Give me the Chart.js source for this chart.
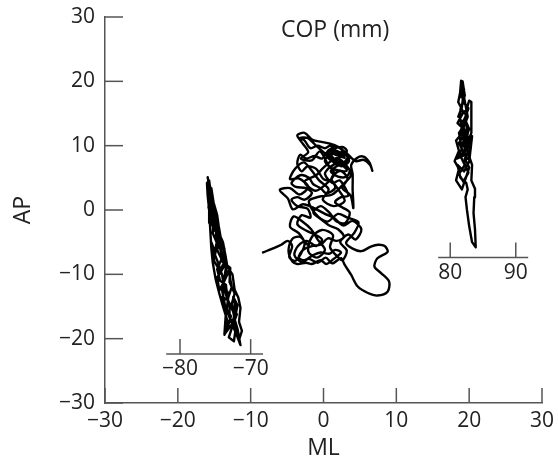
<!DOCTYPE html>
<html><head><meta charset="utf-8">
<script src="https://cdn.jsdelivr.net/npm/chart.js@4/dist/chart.umd.min.js"></script>
<style>html,body{margin:0;padding:0;background:#fff}#wrap{width:558px;height:462px}</style>
</head><body><div id="wrap"><canvas id="c"></canvas></div>
<script>
// ---- data ----
const xTicks = [-30, -20, -10, 0, 10, 20, 30];
const yTicks = [-30, -20, -10, 0, 10, 20, 30];
const leftInsetLabels = [-80, -70];
const rightInsetLabels = [80, 90];
const chartTitle = 'COP (mm)';
const xTitle = 'ML';
const yTitle = 'AP';

// centre trace (ML, AP)
const centralTrace = [
[-8.3,-6.6],[-7.0,-6.0],[-5.8,-5.4],[-4.9,-4.8],[-4.3,-5.6],[-4.7,-7.3],[-3.9,-7.9],[-3.1,-6.8],[-2.6,-5.2],[-3.4,-3.6],
[-4.6,-2.6],[-4.1,-1.0],[-2.9,-1.8],[-1.7,-3.0],[-0.8,-4.6],[0.2,-6.2],[-0.9,-7.4],[-2.1,-6.4],[-1.6,-4.2],[-0.2,-3.1],
[1.3,-3.9],[0.9,-5.8],[1.8,-7.1],[2.6,-7.8],[3.2,-6.3],[2.3,-5.0],[3.4,-3.8],[4.4,-4.6],[5.2,-3.0],[4.0,-1.7],
[2.7,-2.4],[1.4,-1.2],[0.2,-0.6],[-1.3,0.3],[-2.8,0.9],[-4.2,0.1],[-4.9,1.8],[-6.0,3.1],[-4.6,3.4],[-3.3,2.4],
[-2.1,3.6],[-3.4,4.9],[-4.6,4.8],[-3.9,6.4],[-2.7,7.4],[-1.6,6.1],[-0.6,4.6],[0.7,3.2],[-0.1,1.6],[1.4,0.6],
[2.9,1.4],[2.1,3.1],[1.1,4.9],[2.3,6.1],[3.3,4.9],[2.6,3.4],[3.7,2.3],[4.1,0.3],[4.0,3.2],[4.0,5.6],
[3.8,7.0],[4.6,8.1],[5.5,8.3],[6.3,7.4],[6.7,6.1],[6.4,7.0],[5.5,7.8],[4.4,7.6],[3.1,8.9],[1.6,9.9],
[0.5,8.6],[1.9,7.6],[3.2,6.1],[1.3,6.4],[0.2,7.7],[1.7,9.2],[2.9,8.1],[1.0,8.8],[2.4,6.8],[3.5,7.7],
[2.3,9.6],[0.9,10.3],[-0.3,10.6],[-1.5,10.9],[-2.6,12.0],[-3.6,11.6],[-2.9,10.4],[-2.1,9.0],[-3.1,8.0],[-1.6,7.7],
[-0.5,9.1],[0.6,7.1],[1.5,5.6],[0.4,4.1],[-1.1,3.0],[-2.6,4.4],[-1.0,5.4],[0.0,6.6],[1.8,8.1],[3.0,7.1],
[3.8,5.5],[2.8,4.1],[1.2,2.4],[-0.5,2.1],[-2.0,1.4],[-1.1,-0.6],[0.5,-1.8],[2.0,-0.6],[3.3,-1.2],[4.8,-1.9],
[4.2,-3.6],[3.1,-5.1],[4.0,-6.0],[5.2,-6.4],[6.5,-5.7],[7.5,-5.4],[8.4,-5.6],[8.8,-6.5],[7.4,-7.5],[7.0,-8.8],
[7.9,-9.8],[9.0,-11.1],[8.8,-12.7],[7.4,-13.3],[6.1,-12.9],[4.7,-11.9],[3.8,-10.1],[2.9,-8.5],[2.4,-7.5],[1.2,-8.3],
[0.3,-7.4],[-0.8,-8.2],[-2.0,-7.6],[-3.0,-8.1],[-4.0,-7.0],[-3.5,-5.6],[-2.3,-4.8],[-1.0,-5.6],
[-0.2,-4.6],[-1.2,-3.8],[-2.4,-3.2],[-3.6,-2.2],[-3.0,-0.8],[-1.8,-1.2],[-2.2,0.2],[-3.6,0.6],[-4.4,1.6],[-3.6,2.0],
[-2.6,1.6],[-1.6,2.6],[-2.4,3.4],[-3.8,3.6],[-4.4,4.2],[-3.2,5.4],[-2.0,5.0],[-1.4,4.0],[-0.4,3.4],[0.4,2.6],
[1.6,3.4],[1.2,4.4],[0.0,4.8],[-1.0,6.4],[-2.2,6.8],[-3.0,6.0],[-3.6,7.2],[-3.2,8.6],[-2.4,8.0],[-1.2,8.4],
[-0.2,8.0],[0.8,9.4],[1.6,8.6],[2.4,9.0],[3.4,8.6],[3.0,7.6],[2.0,7.0],[1.2,7.6],[0.6,8.2],[1.4,9.4],
[2.6,9.8],[3.2,9.2],[2.8,8.4],[1.8,8.8],[1.0,10.0],[0.2,9.6],[-0.8,10.0],[-1.8,9.6],[-2.6,10.8],[-3.2,11.2],
[-2.2,11.2],[-1.2,10.2],[0.0,9.0],[1.2,8.0],[2.2,7.8],[3.0,6.6],[3.6,6.2],[3.2,5.2],[2.0,5.2],[1.0,6.0],
[1.8,6.8],[2.8,7.2],[3.6,8.2],[2.6,8.6],[1.6,7.2],[0.8,6.6],[0.2,5.6],[1.2,4.2],[2.2,4.6],[3.0,3.4],
[3.4,2.2],[2.4,2.0],[1.6,1.2],[2.6,0.4],[3.6,-0.4],[3.0,-2.0],[1.8,-1.8],[0.8,-0.4],[-0.4,0.6],[-1.4,-0.4],
[-0.4,-1.4],[0.8,-2.4],[2.0,-3.0],[2.8,-4.2],[1.8,-4.8],[0.6,-4.4],[-0.4,-5.4],[-1.6,-5.6],[-2.8,-6.2],[-3.4,-7.4],
[-2.6,-7.8],[-1.4,-7.0],[-0.4,-6.6],[0.8,-6.8],[1.6,-6.2],[2.4,-6.6],[1.4,-7.6],[0.4,-8.4],[-0.4,-7.8],[-1.6,-8.4],
[-2.4,-8.2],[-3.6,-8.4],[-4.4,-7.8],[-4.8,-6.2],[-4.2,-4.4],[-3.2,-4.2],[-2.2,-5.4]
];

// left trace (plotted in main ML units)
const leftTrace = [
[-15.9,5.1],[-15.6,3.0],[-15.7,1.0],[-15.3,2.5],[-15.1,0.2],[-15.5,-1.5],[-15.0,-3.2],[-15.4,-1.0],[-15.8,0.5],[-15.2,-2.5],
[-14.5,-4.0],[-14.9,-6.5],[-15.4,-5.0],[-15.0,-8.0],[-14.2,-9.5],[-13.4,-7.5],[-13.8,-5.0],[-14.6,-3.0],[-14.2,-6.0],[-13.5,-8.5],
[-14.6,-10.5],[-14.3,-12.5],[-13.6,-11.0],[-13.0,-9.5],[-12.6,-12.0],[-13.2,-14.0],[-13.9,-13.5],[-13.4,-16.0],[-13.6,-19.3],[-12.6,-17.8],
[-12.0,-15.5],[-12.4,-13.5],[-11.8,-14.8],[-12.2,-17.0],[-11.8,-18.5],[-11.4,-21.0],[-11.9,-19.5],[-12.8,-17.0],[-13.5,-15.0],[-14.0,-12.0],
[-13.2,-10.0],[-13.8,-7.0],[-14.8,-4.5],[-14.6,-2.0],[-15.2,0.0],[-15.5,2.0],[-15.1,-0.8],[-14.4,-3.5],[-14.0,-6.8],[-13.4,-9.0],
[-13.8,-11.8],[-13.0,-13.0],[-13.3,-15.5],[-12.7,-16.5],[-13.1,-18.0],
[-13.6,-19.4],[-13.2,-17.2],[-13.8,-15.0],[-14.3,-13.0],[-14.8,-10.8],[-15.2,-8.2],[-15.4,-6.0],[-15.5,-4.0],[-15.6,-2.0],[-15.7,0.0],
[-15.9,2.2],[-16.0,4.2],[-15.7,4.6],[-15.4,2.0],[-15.0,0.6],[-14.8,-1.5],[-14.3,-3.8],[-14.0,-5.5],[-13.5,-6.8],[-13.2,-8.8],
[-12.5,-10.0],[-12.2,-12.4],[-11.7,-13.6],[-11.4,-15.2],[-11.6,-17.4],[-11.2,-18.8],[-11.6,-20.2],[-12.2,-18.2],[-12.9,-16.6],[-12.9,-14.6],
[-13.6,-12.6],[-13.9,-10.2],[-14.4,-8.4],[-14.9,-7.0],[-14.6,-5.2],[-15.2,-3.6],[-15.1,-1.8],[-15.6,0.4],[-15.4,3.4],[-15.1,1.2],
[-14.6,-0.8],[-14.4,-2.4],[-14.1,-4.4],[-13.6,-6.0],[-13.9,-8.0],[-12.8,-9.0],[-12.9,-11.2],[-12.2,-13.0],[-12.6,-14.6],[-11.9,-16.2],
[-12.6,-18.4],[-13.0,-19.8],[-12.3,-20.4],[-12.0,-18.0],[-12.4,-15.8],[-13.2,-13.8],[-13.4,-11.6],[-14.2,-11.0],[-14.6,-9.2],[-14.0,-7.6],
[-14.6,-6.2],[-14.2,-4.6],[-14.8,-2.6],[-15.3,-0.6],[-15.2,1.6],[-15.6,3.8]
];

// right trace (plotted in main ML units)
const rightTrace = [
[18.9,20.1],[18.7,17.5],[19.3,18.8],[19.0,16.0],[18.5,14.5],[19.6,15.5],[20.0,17.0],[20.3,16.8],[20.3,12.0],[19.8,10.5],
[19.2,13.0],[18.6,12.0],[19.0,9.5],[18.3,8.0],[19.5,8.6],[19.2,11.0],[18.8,14.0],[19.6,13.5],[19.9,10.0],[20.4,11.5],
[20.0,7.5],[19.3,6.0],[18.4,7.0],[18.8,5.0],[19.6,4.2],[19.8,3.2],[19.5,2.0],[19.7,0.0],[20.0,-2.5],[20.4,-5.0],
[20.9,-5.8],[20.8,-3.0],[20.6,-0.5],[20.7,2.0],[20.8,3.3],[20.3,4.6],[20.4,7.0],[19.8,9.0],[19.1,12.5],[19.8,14.5],
[19.3,17.5],[18.9,19.0],[18.5,16.8],[19.2,15.2],[18.4,13.5],[19.4,12.4],[18.2,10.8],[18.6,9.2],[18.0,7.6],[18.6,6.4],
[18.2,4.6],[19.0,3.2],[19.6,5.2],[20.0,6.6],[19.4,8.0],[20.1,9.4],[19.5,11.0],[20.0,12.6],[19.4,14.2],[19.9,15.8],
[19.3,16.6],[18.8,18.4],[19.1,20.0],[19.4,17.8],[18.8,15.6],[19.6,14.8],[19.0,13.2],[18.8,11.6],[19.8,11.8],[19.0,10.2],
[19.6,9.6],[18.8,8.4],[19.4,7.0],[18.6,5.6],[19.2,4.4],[19.9,5.8],[19.2,7.6],[19.8,8.0],[19.2,9.0],[18.6,10.4],[19.4,12.0]
];

// ---- layout of the inset axes (main-axis units) ----
const insets = [
  {labels: leftInsetLabels, a: 0.97, b: 57.9, y: -22.4, from: -21.6, to: -8.3},
  {labels: rightInsetLabels, a: 0.9, b: -54.6, y: -7.4, from: 15.75, to: 28.1}
];

const FONT = '"Open Sans", Lato, "DejaVu Sans", sans-serif';
const fmt = v => (v < 0 ? '\u2212' + Math.abs(v) : String(v));
const toPts = arr => arr.map(p => ({x: p[0], y: p[1]}));

const decor = {
  id: 'decor',
  afterDatasetsDraw(chart) {
    const {ctx, chartArea: ca, scales: {x, y}} = chart;
    const line = (x1, y1, x2, y2) => { ctx.beginPath(); ctx.moveTo(x1, y1); ctx.lineTo(x2, y2); ctx.stroke(); };
    ctx.save();
    ctx.strokeStyle = '#555';
    ctx.lineWidth = 1.5;
    xTicks.forEach(v => { const px = x.getPixelForValue(v); line(px, ca.bottom, px, ca.bottom - 15); });
    yTicks.forEach(v => { const py = y.getPixelForValue(v); line(ca.left, py, ca.left + 18, py); });
    ctx.fillStyle = '#222';
    ctx.font = '21px ' + FONT;
    ctx.textAlign = 'center';
    ctx.textBaseline = 'alphabetic';
    insets.forEach(ins => {
      const py = y.getPixelForValue(ins.y);
      line(x.getPixelForValue(ins.from), py, x.getPixelForValue(ins.to), py);
      ins.labels.forEach(v => {
        const px = x.getPixelForValue(v * ins.a + ins.b);
        line(px, py, px, py - 15);
        ctx.fillText(fmt(v), px, py + 21);
      });
    });
    ctx.font = '23px ' + FONT;
    ctx.fillText(chartTitle, x.getPixelForValue(1.6), y.getPixelForValue(26.9));
    ctx.restore();
  }
};

const ds = (arr, tension) => ({
  data: toPts(arr), showLine: true, borderColor: '#000', borderWidth: 2.4,
  borderJoinStyle: 'round', borderCapStyle: 'round',
  pointRadius: 0, tension: tension, fill: false
});

new Chart(document.getElementById('c'), {
  type: 'scatter',
  data: { datasets: [ds(centralTrace, 0.3), ds(leftTrace, 0), ds(rightTrace, 0)] },
  options: {
    responsive: true, maintainAspectRatio: false, animation: false,
    layout: { padding: {top: 17, right: 16, left: 0, bottom: 0} },
    plugins: { legend: {display: false}, tooltip: {enabled: false} },
    scales: {
      x: {
        type: 'linear', min: -30, max: 30,
        afterFit: s => { s.height = 59; s.paddingLeft = 0; s.paddingRight = 0; },
        afterBuildTicks: s => { s.ticks = xTicks.map(v => ({value: v})); },
        grid: { display: false, drawTicks: false },
        border: { display: true, color: '#555', width: 1.5 },
        ticks: { callback: fmt, font: {family: FONT, size: 21}, color: '#222', padding: 5, maxRotation: 0, autoSkip: false },
        title: { display: true, text: xTitle, font: {family: FONT, size: 23}, color: '#222', padding: {top: 0, bottom: 0} }
      },
      y: {
        type: 'linear', min: -30, max: 30,
        afterFit: s => { s.width = 105; s.paddingTop = 0; s.paddingBottom = 0; },
        afterBuildTicks: s => { s.ticks = yTicks.map(v => ({value: v})); },
        grid: { display: false, drawTicks: false },
        border: { display: true, color: '#555', width: 1.5 },
        ticks: { callback: fmt, font: {family: FONT, size: 21}, color: '#222', padding: 10, autoSkip: false },
        title: { display: true, text: yTitle, font: {family: FONT, size: 23}, color: '#222', padding: {top: 10, bottom: 0} }
      }
    }
  },
  plugins: [decor]
});
</script>
</body></html>
